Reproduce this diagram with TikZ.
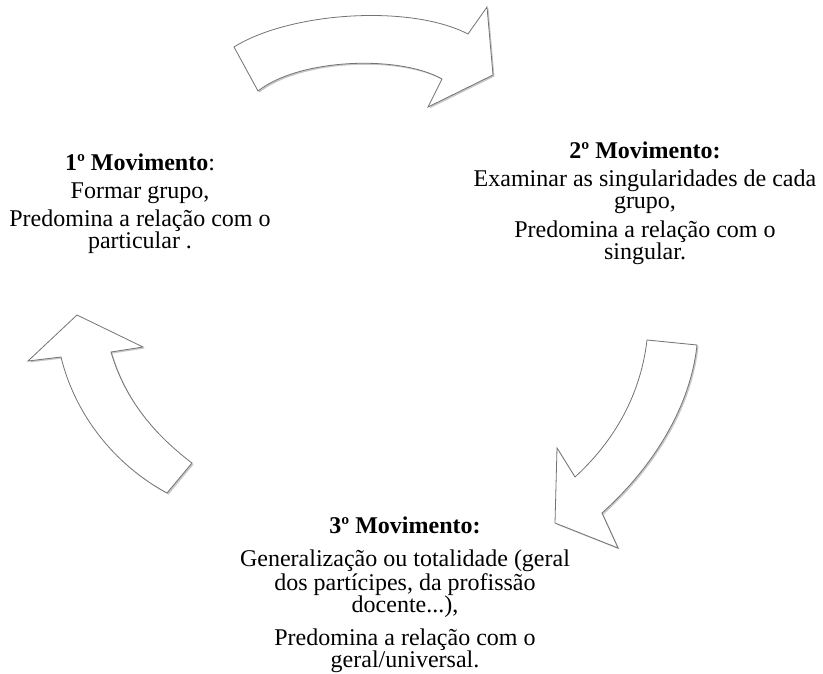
\documentclass[tikz,border=0pt]{standalone}
\usepackage{fontspec}
\setmainfont{Liberation Serif}
\usepackage{tikz}
\usetikzlibrary{shadows}

\begin{document}
\begin{tikzpicture}[x=1pt, y=-1pt]
      \tikzstyle{cyclearrow} = [draw=black!55, line width=0.8pt, fill=white, line join=miter, drop shadow={shadow xshift=1.5pt, shadow yshift=-1.5pt, opacity=0.22, fill=black}]
      \tikzstyle{movtext} = [align=center, anchor=base, inner sep=0pt, font=\fontsize{24}{22}\selectfont]

      \useasboundingbox (0,0) rectangle (823,674);

      % arrows of the cycle
      \draw [cyclearrow] (234,47) .. controls (290,12) and (410,4) .. (468,34) -- (487,7) -- (493,75) -- (428,107) -- (442,79) .. controls (400,55) and (300,58) .. (258,91) -- cycle;
      \draw [cyclearrow] (647,340) -- (697,345) .. controls (690,410) and (650,470) .. (602,513) -- (618,548) -- (555,523) -- (557,448) -- (575,477) .. controls (610,445) and (640,400) .. (647,340) -- cycle;
      \draw [cyclearrow] (77,315) -- (143,347) -- (111,352) .. controls (125,400) and (155,435) .. (192,463) -- (167,493) .. controls (115,465) and (75,415) .. (61,357) -- (28,361) -- cycle;

      % the three movements (anchored on their last line)
      \node (mov1) [movtext] at (140,249) {\textbf{1º Movimento}:\\[6pt] Formar grupo,\\[7pt] Predomina a relação com o\\ particular .};
      \node (mov2) [movtext] at (645,259) {\textbf{2º Movimento:}\\[6pt] Examinar as singularidades de cada\\ grupo,\\[7pt] Predomina a relação com o\\ singular.};
      \node (mov3) [movtext] at (405,667) {\textbf{3º Movimento:}\\[11pt] Generalização ou totalidade (geral\\ dos partícipes, da profissão\\ docente...),\\[11pt] Predomina a relação com o\\ geral/universal.};

\end{tikzpicture}
\end{document}
